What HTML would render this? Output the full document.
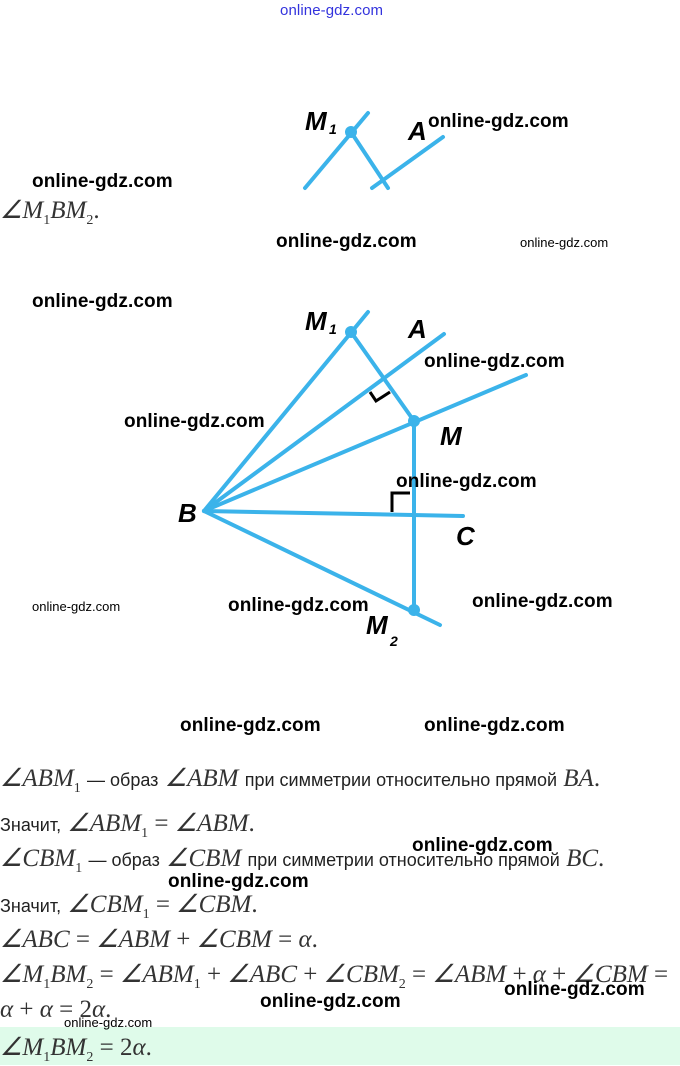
<!DOCTYPE html>
<html><head><meta charset="utf-8"><style>
body{margin:0;width:680px;height:1065px;background:#fff;position:relative;overflow:hidden;font-family:"Liberation Sans",sans-serif}
.w{position:absolute;font-size:19px;font-weight:bold;color:#000;font-family:"Liberation Sans",sans-serif;white-space:nowrap;letter-spacing:0.1px}
.s{font-size:13px;font-weight:normal;letter-spacing:0}
.t{position:absolute;left:0;font-family:"Liberation Serif",serif;font-size:25px;color:#333;white-space:nowrap}
.t i{font-style:italic}
.r{font-family:"Liberation Sans",sans-serif;font-size:18px;color:#222}
sub{font-size:14px;font-style:normal}
</style></head><body>
<div class="w" style="left:280px;top:2px;font-size:15px;color:#33d;font-weight:normal">online-gdz.com</div>
<svg width="680" height="1065" style="position:absolute;left:0;top:0">
<g stroke="#3bb3ea" stroke-width="4" stroke-linecap="round" fill="none">
<line x1="305" y1="188" x2="368" y2="113"/><line x1="351" y1="132" x2="388" y2="188"/><line x1="372" y1="188" x2="443" y2="137"/>
<line x1="204" y1="511" x2="368" y2="312"/>
<line x1="204" y1="511" x2="444" y2="334"/>
<line x1="204" y1="511" x2="526" y2="375"/>
<line x1="204" y1="511" x2="463" y2="516"/>
<line x1="204" y1="511" x2="440" y2="625"/>
<line x1="351" y1="332" x2="414" y2="421"/>
<line x1="414" y1="421" x2="414" y2="610"/>
</g>
<g fill="#3bb3ea"><circle cx="351" cy="132" r="6"/><circle cx="351" cy="332" r="6"/><circle cx="414" cy="421" r="6"/><circle cx="414" cy="610" r="6"/></g>
<g stroke="#000" stroke-width="3" fill="none"><polyline points="370,392 376,401 390,392"/><polyline points="392,512 392,493 410,493"/></g>
<g font-family="Liberation Sans" font-style="italic" font-weight="bold" font-size="26">
<text x="305" y="130">M</text><text x="329" y="134" font-size="14">1</text><text x="408" y="140">A</text>
<text x="305" y="330">M</text><text x="329" y="334" font-size="14">1</text><text x="408" y="338">A</text>
<text x="440" y="445">M</text><text x="178" y="522">B</text><text x="456" y="545">C</text>
<text x="366" y="634">M</text><text x="390" y="646" font-size="14">2</text>
</g>
</svg>
<div class="w" style="left:428px;top:111px">online-gdz.com</div>
<div class="w" style="left:32px;top:171px">online-gdz.com</div>
<div class="t" style="top:195px"><i>∠M<sub>1</sub>BM<sub>2</sub></i>.</div>
<div class="w" style="left:276px;top:231px">online-gdz.com</div>
<div class="w s" style="left:520px;top:235px">online-gdz.com</div>
<div class="w" style="left:32px;top:291px">online-gdz.com</div>
<div class="w" style="left:424px;top:351px">online-gdz.com</div>
<div class="w" style="left:124px;top:411px">online-gdz.com</div>
<div class="w" style="left:396px;top:471px">online-gdz.com</div>
<div class="w s" style="left:32px;top:599px">online-gdz.com</div>
<div class="w" style="left:228px;top:595px">online-gdz.com</div>
<div class="w" style="left:472px;top:591px">online-gdz.com</div>
<div class="w" style="left:180px;top:715px">online-gdz.com</div>
<div class="w" style="left:424px;top:715px">online-gdz.com</div>
<div class="t" style="top:763px"><i>∠ABM<sub>1</sub></i> <span class="r">— образ</span> <i>∠ABM</i> <span class="r">при симметрии относительно прямой</span> <i>BA</i>.</div>
<div class="t" style="top:808px"><span class="r">Значит,</span> <i>∠ABM<sub>1</sub></i> = <i>∠ABM</i>.</div>
<div class="t" style="top:843px"><i>∠CBM<sub>1</sub></i> <span class="r">— образ</span> <i>∠CBM</i> <span class="r">при симметрии относительно прямой</span> <i>BC</i>.</div>
<div class="w" style="left:412px;top:835px">online-gdz.com</div>
<div class="w" style="left:168px;top:871px">online-gdz.com</div>
<div class="t" style="top:889px"><span class="r">Значит,</span> <i>∠CBM<sub>1</sub></i> = <i>∠CBM</i>.</div>
<div class="t" style="top:924px"><i>∠ABC</i> = <i>∠ABM</i> + <i>∠CBM</i> = <i>α</i>.</div>
<div class="t" style="top:959px"><i>∠M<sub>1</sub>BM<sub>2</sub></i> = <i>∠ABM<sub>1</sub></i> + <i>∠ABC</i> + <i>∠CBM<sub>2</sub></i> = <i>∠ABM</i> + <i>α</i> + <i>∠CBM</i> =</div>
<div class="t" style="top:996px"><i>α</i> + <i>α</i> = 2<i>α</i>.</div>
<div class="w" style="left:504px;top:979px">online-gdz.com</div>
<div class="w" style="left:260px;top:991px">online-gdz.com</div>
<div style="position:absolute;left:0;top:1027px;width:680px;height:38px;background:#dffbea"></div>
<div class="w s" style="left:64px;top:1015px">online-gdz.com</div>
<div class="t" style="top:1032px"><i>∠M<sub>1</sub>BM<sub>2</sub></i> = 2<i>α</i>.</div>
</body></html>
